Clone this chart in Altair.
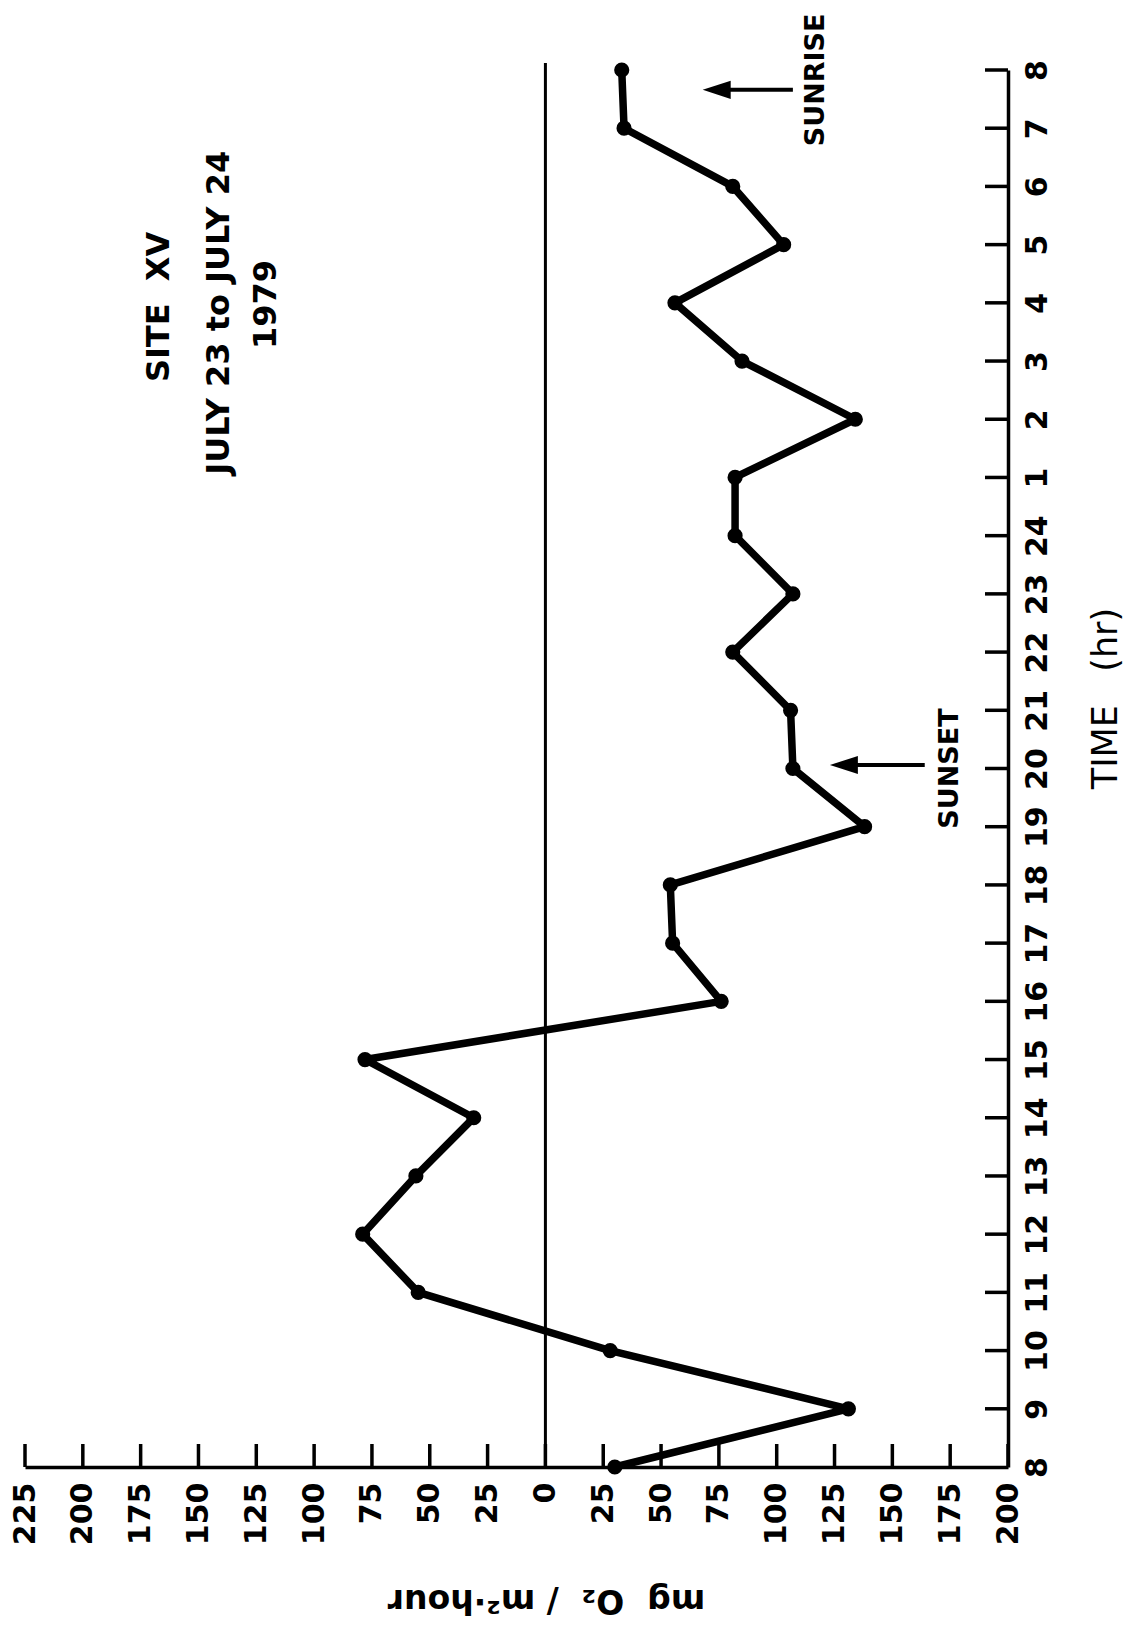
import json
import altair as alt
import pandas as pd

NB = "\u00a0"

# ---- data ----
hour_labels = ["8", "9", "10", "11", "12", "13", "14", "15", "16", "17", "18", "19",
               "20", "21", "22", "23", "24", "1", "2", "3", "4", "5", "6", "7", "8"]
o2_rate = [-30, -131, -28, 55, 79, 56, 31, 78, -76, -55, -54, -138,
           -107, -106, -81, -107, -82, -82, -134, -85, -56, -103, -81, -34, -33]
value_ticks = list(range(-200, 226, 25))

note_text = ["SITE" + NB + NB + "XV", "JULY 23 to JULY 24", "1979", "SUNRISE", "SUNSET"]
note_v = [167, 141, 121, -117, -175]
note_t = [19.93, 19.83, 19.97, 23.83, 12.0]
note_size = [32, 32, 32, 27, 27]

arrow_t = [23.66, 12.06]
arrow_tail = [-107, -164]
arrow_tip = [-68, -123]

zero_line_top = 24.12

W, H = 983, 1397
FONT = "DejaVu Sans"

hour_index = list(range(len(hour_labels)))
df_main = pd.DataFrame({"t": hour_index, "v": o2_rate, "hour": hour_labels})
df_tt = pd.DataFrame({"t": hour_index[1:]})
df_vt = pd.DataFrame({"v": value_ticks})
df_zero = pd.DataFrame({"v": [0], "t": [0], "t2": [zero_line_top]})
df_note = pd.DataFrame({"v": note_v, "t": note_t, "label": note_text, "fs": note_size})
df_arrow = pd.DataFrame({"t": arrow_t, "v": arrow_tail, "v2": arrow_tip})
df_head = pd.DataFrame({"t": arrow_t, "v": arrow_tip})

x_scale = alt.Scale(domain=[-200, 225], reverse=True, nice=False, zero=False)
y_scale = alt.Scale(domain=[0, 24], nice=False, zero=False)

x_axis = alt.Axis(
    orient="bottom", values=value_ticks, labelExpr="format(abs(datum.value), 'd')",
    labelAngle=270, labelAlign="right", labelBaseline="middle", labelPadding=15,
    labelFont=FONT, labelFontSize=30, labelFontWeight="bold", labelColor="black",
    labelOverlap=False, labelFlush=False, ticks=False, tickSize=0,
    domainWidth=3.5, domainColor="black", grid=False,
    title="mg" + NB + NB + "O₂" + NB + NB + "/" + NB + "m²·hour", titleAngle=180,
    titleX=521, titleY=132,
    titleAlign="center", titleBaseline="middle", titleFont=FONT, titleFontSize=33,
    titleFontWeight="bold", titleColor="black",
)
y_axis = alt.Axis(
    orient="right", values=hour_index, labelExpr=json.dumps(hour_labels) + "[datum.value]",
    labelAngle=270, labelAlign="center", labelBaseline="top", labelPadding=14,
    labelFont=FONT, labelFontSize=30, labelFontWeight="bold", labelColor="black",
    labelOverlap=False, labelFlush=False, ticks=False, tickSize=0,
    domainWidth=3.5, domainColor="black", grid=False,
    title="TIME" + NB + NB + NB + "(hr)", titleAngle=270, titleX=97, titleY=628,
    titleAlign="center", titleBaseline="middle", titleFont=FONT, titleFontSize=35,
    titleFontWeight="normal", titleColor="black",
)


def X(f="v"):
    return alt.X(f + ":Q", scale=x_scale, axis=x_axis)


def Y(f="t"):
    return alt.Y(f + ":Q", scale=y_scale, axis=y_axis)


zero = alt.Chart(df_zero).mark_rule(color="black", strokeWidth=3).encode(
    x=X(), y=Y(), y2="t2:Q")

line = alt.Chart(df_main).mark_line(color="black", strokeWidth=7.5, strokeJoin="round").encode(
    x=X(), y=Y(), order="t:Q")
points = alt.Chart(df_main).mark_circle(color="black", opacity=1, size=230).encode(
    x=X(), y=Y())

t_ticks = alt.Chart(df_tt).mark_rule(color="black", strokeWidth=3.5).encode(
    y=Y(), x=alt.value(W), x2=alt.value(W - 23))
v_ticks = alt.Chart(df_vt).mark_rule(color="black", strokeWidth=3.5).encode(
    x=X(), y=alt.value(H), y2=alt.value(H - 23))

shafts = alt.Chart(df_arrow).mark_rule(color="black", strokeWidth=4, x2Offset=12).encode(
    x=X(), x2="v2:Q", y=Y())
heads = alt.Chart(df_head).mark_point(
    shape="M-1,0 L1,-0.65 L1,0.65 Z", filled=True, color="black", opacity=1,
    size=784, xOffset=14, strokeWidth=0).encode(x=X(), y=Y())

notes = alt.Chart(df_note).mark_text(
    angle=270, align="center", baseline="middle", font=FONT, fontWeight="bold",
    color="black").encode(x=X(), y=Y(), text="label:N", size=alt.Size("fs:Q", scale=None))

chart = alt.layer(zero, line, points, t_ticks, v_ticks, shafts, heads, notes).properties(
    width=W, height=H,
    padding={"left": 17, "top": 62, "right": 122, "bottom": 160},
    autosize=alt.AutoSizeParams(type="none"),
    background="white",
).configure_view(stroke=None)

chart.save("out.html", embed_options={"renderer": "svg", "actions": False})
